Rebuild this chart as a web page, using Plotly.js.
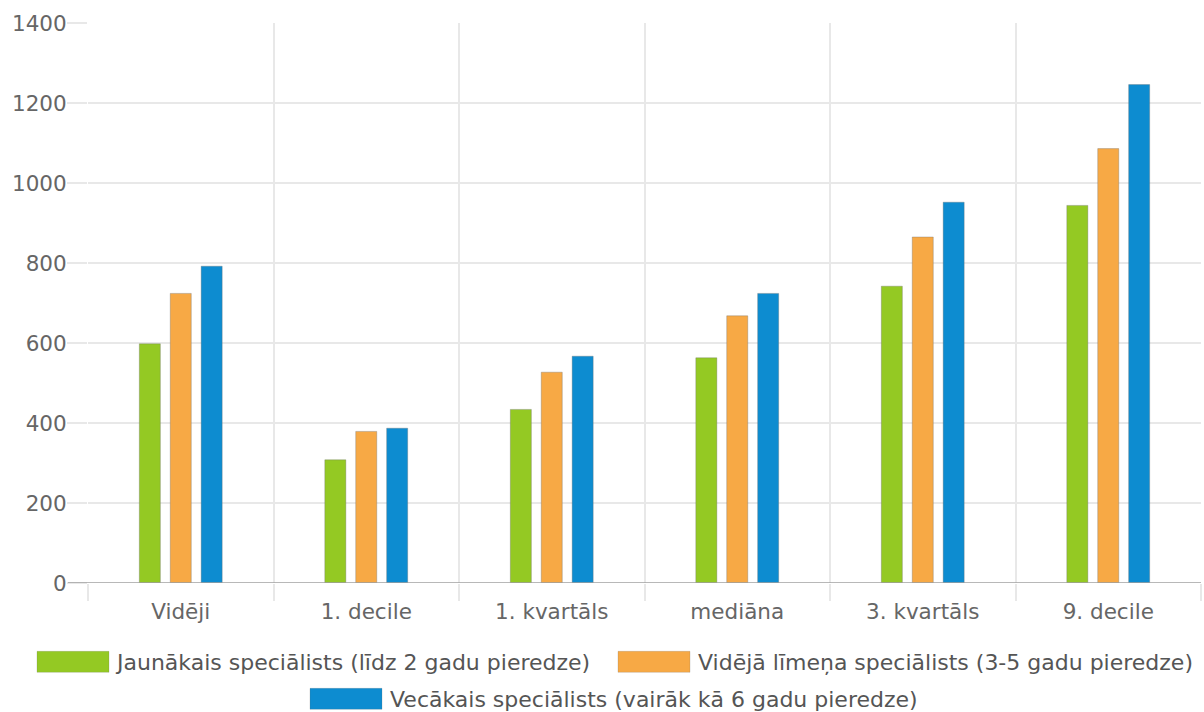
<!DOCTYPE html>
<html>
<head>
<meta charset="utf-8">
<script src="https://cdn.plot.ly/plotly-3.0.1.min.js"></script>
<style>
  html, body { margin: 0; padding: 0; background: #fff; }
  #chart { width: 1204px; height: 712px; }
</style>
</head>
<body>
<div id="chart"></div>
<script>
const categories = ["Vidēji", "1. decile", "1. kvartāls", "mediāna", "3. kvartāls", "9. decile"];
const seriesNames = [
  "Jaunākais speciālists (līdz 2 gadu pieredze)",
  "Vidējā līmeņa speciālists (3-5 gadu pieredze)",
  "Vecākais speciālists (vairāk kā 6 gadu pieredze)"
];
const junior = [598, 308, 434, 563, 742, 944];
const middle = [724, 379, 527, 668, 865, 1086];
const senior = [792, 387, 567, 724, 952, 1246];
const yTicks = [0, 200, 400, 600, 800, 1000, 1200, 1400];

const colors = ["#94c923", "#f7a945", "#0d8cd0"];
const values = [junior, middle, senior];
const legendIds = ["legend", "legend2", "legend3"];

const traces = values.map((v, i) => ({
  type: "bar",
  name: seriesNames[i],
  x: categories,
  y: v,
  legend: legendIds[i],
  marker: { color: colors[i], line: { color: "rgba(110,110,110,0.35)", width: 1 } },
  hoverinfo: "none"
}));

const font = "DejaVu Sans, sans-serif";
const grid = "#e8e8e8";

function legendBox(xPx, yPx) {
  return {
    orientation: "h",
    xref: "container", yref: "container",
    x: xPx / 1204, xanchor: "left",
    y: (712 - yPx) / 712, yanchor: "middle",
    itemwidth: 78,
    font: { family: font, size: 22, color: "#555555" },
    bgcolor: "rgba(0,0,0,0)",
    itemclick: false, itemdoubleclick: false
  };
}

const layout = {
  width: 1204,
  height: 712,
  margin: { l: 88, r: 3, t: 23, b: 129, pad: 0 },
  paper_bgcolor: "#ffffff",
  plot_bgcolor: "#ffffff",
  barmode: "group",
  bargap: 0.5,
  bargroupgap: 0.32,
  font: { family: font, color: "#666666", size: 21.5 },
  xaxis: {
    type: "category",
    tickson: "boundaries",
    ticks: "outside",
    ticklen: 17,
    tickwidth: 2,
    tickcolor: grid,
    showgrid: true,
    gridcolor: grid,
    gridwidth: 2,
    showline: false,
    zeroline: false,
    ticklabelstandoff: 13,
    tickfont: { family: font, size: 21.5, color: "#666666" },
    fixedrange: true
  },
  yaxis: {
    range: [0, 1400],
    tickvals: yTicks,
    ticktext: yTicks.map(String),
    ticks: "outside",
    ticklen: 20,
    tickwidth: 2,
    tickcolor: grid,
    showgrid: true,
    gridcolor: grid,
    gridwidth: 2,
    zeroline: false,
    showline: false,
    ticklabelstandoff: -4,
    tickfont: { family: font, size: 21.5, color: "#666666" },
    fixedrange: true
  },
  shapes: [{
    type: "line", xref: "paper", yref: "y",
    x0: -20 / 1113, x1: 1, y0: 0, y1: 0,
    line: { color: "#a0a0a0", width: 1.5 }
  }],
  showlegend: true,
  legend: legendBox(29, 662),
  legend2: legendBox(610, 662),
  legend3: legendBox(302, 699)
};

Plotly.newPlot("chart", traces, layout, { displayModeBar: false, staticPlot: true }).then(gd => {
  gd.querySelectorAll(".legendpoints path").forEach(p => {
    p.setAttribute("d", "M36,10.5H-36V-10.5H36Z");
    p.style.strokeWidth = "1px";
    p.style.stroke = "rgba(110,110,110,0.6)";
  });
});
</script>
</body>
</html>
